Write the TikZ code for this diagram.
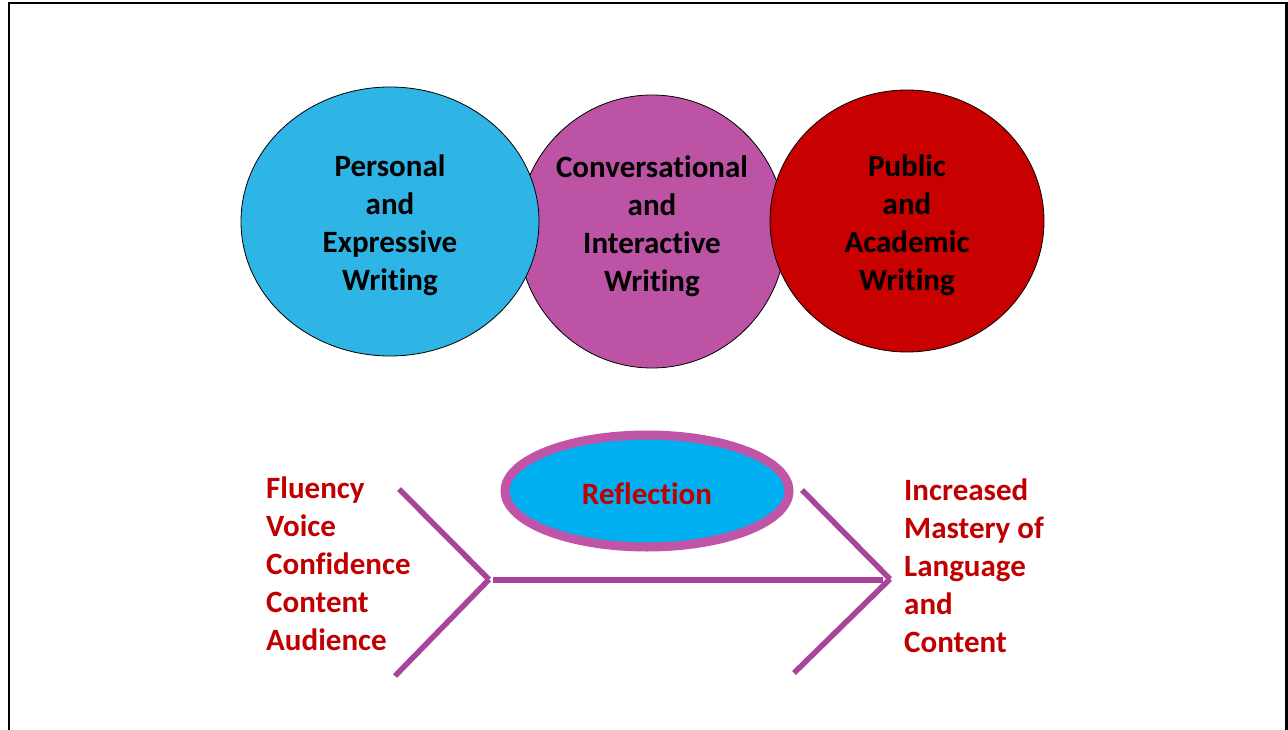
\documentclass[tikz,border=0pt]{standalone}
\usepackage{fontspec}
\setmainfont{Carlito}[Ligatures=NoCommon]
\usetikzlibrary{shapes.geometric}
\definecolor{skyblue}{HTML}{2EB5E6}
\definecolor{orchid}{HTML}{BD53A5}
\definecolor{deepred}{HTML}{C80000}
\definecolor{textred}{HTML}{C00000}
\definecolor{ringpurple}{HTML}{C055A8}
\definecolor{linepurple}{HTML}{A8449A}
\definecolor{reflblue}{HTML}{00B0F0}
\begin{document}
\begin{tikzpicture}[
    x=1pt, y=-1pt,
    every node/.style={font=\fontsize{31}{38}\selectfont\bfseries},
    bubble/.style={ellipse, draw=black, line width=0.8pt, inner sep=0pt},
    bubble text/.style={align=center}, % texto um pouco abaixo do centro
    side text/.style={text=textred, align=left, anchor=west, inner sep=0pt}, % listas vermelhas
    fish line/.style={draw=linepurple, line width=5.5pt}
    ]
    \clip (0,0) rectangle (1288,730);
    \draw[line width=2.3pt] (9,740) -- (9,3) -- (1286.5,3) -- (1286.5,740);
    % tres circulos
    \node[bubble, fill=orchid, minimum width=268, minimum height=273,
      label={[bubble text, yshift=5pt]center:Conversational\\and\\Interactive\\Writing}] (conv) at (652,231.5) {};
    \node[bubble, fill=skyblue, minimum width=298, minimum height=269,
      label={[bubble text, yshift=-3.5pt]center:Personal\\and\\Expressive\\Writing}] (pers) at (390,221.5) {};
    \node[bubble, fill=deepred, minimum width=274, minimum height=262,
      label={[bubble text, yshift=-4.5pt]center:Public\\and\\Academic\\Writing}] (pub) at (907,221) {};
    % reflexao
    \node[ellipse, draw=ringpurple, line width=9pt, fill=reflblue,
      minimum width=284, minimum height=112, inner sep=0pt,
      label={[text=textred, yshift=-3pt]center:Reflection}] (refl) at (647,491) {};
    \coordinate (ltop) at (399,489);
    \coordinate (ltip) at (489,579.5);
    \coordinate (lbot) at (395,676);
    \coordinate (lspine) at (493,580);
    \coordinate (rspine) at (883,580);
    \coordinate (rtop) at (802,490);
    \coordinate (rtip) at (890,579);
    \coordinate (rbot) at (794,673);
    \draw[fish line] (ltop) -- (ltip);
    \draw[fish line] (ltip) -- (lbot);
    \draw[fish line] (lspine) -- (rspine);
    \draw[fish line] (rtop) -- (rtip);
    \draw[fish line] (rtip) -- (rbot);
    \node[side text] (gains) at (266,563.5) {Fluency\\Voice\\Confidence\\Content\\Audience};
    \node[side text] (mastery) at (904,566) {Increased\\Mastery of\\Language\\and\\Content};
\end{tikzpicture}
\end{document}
